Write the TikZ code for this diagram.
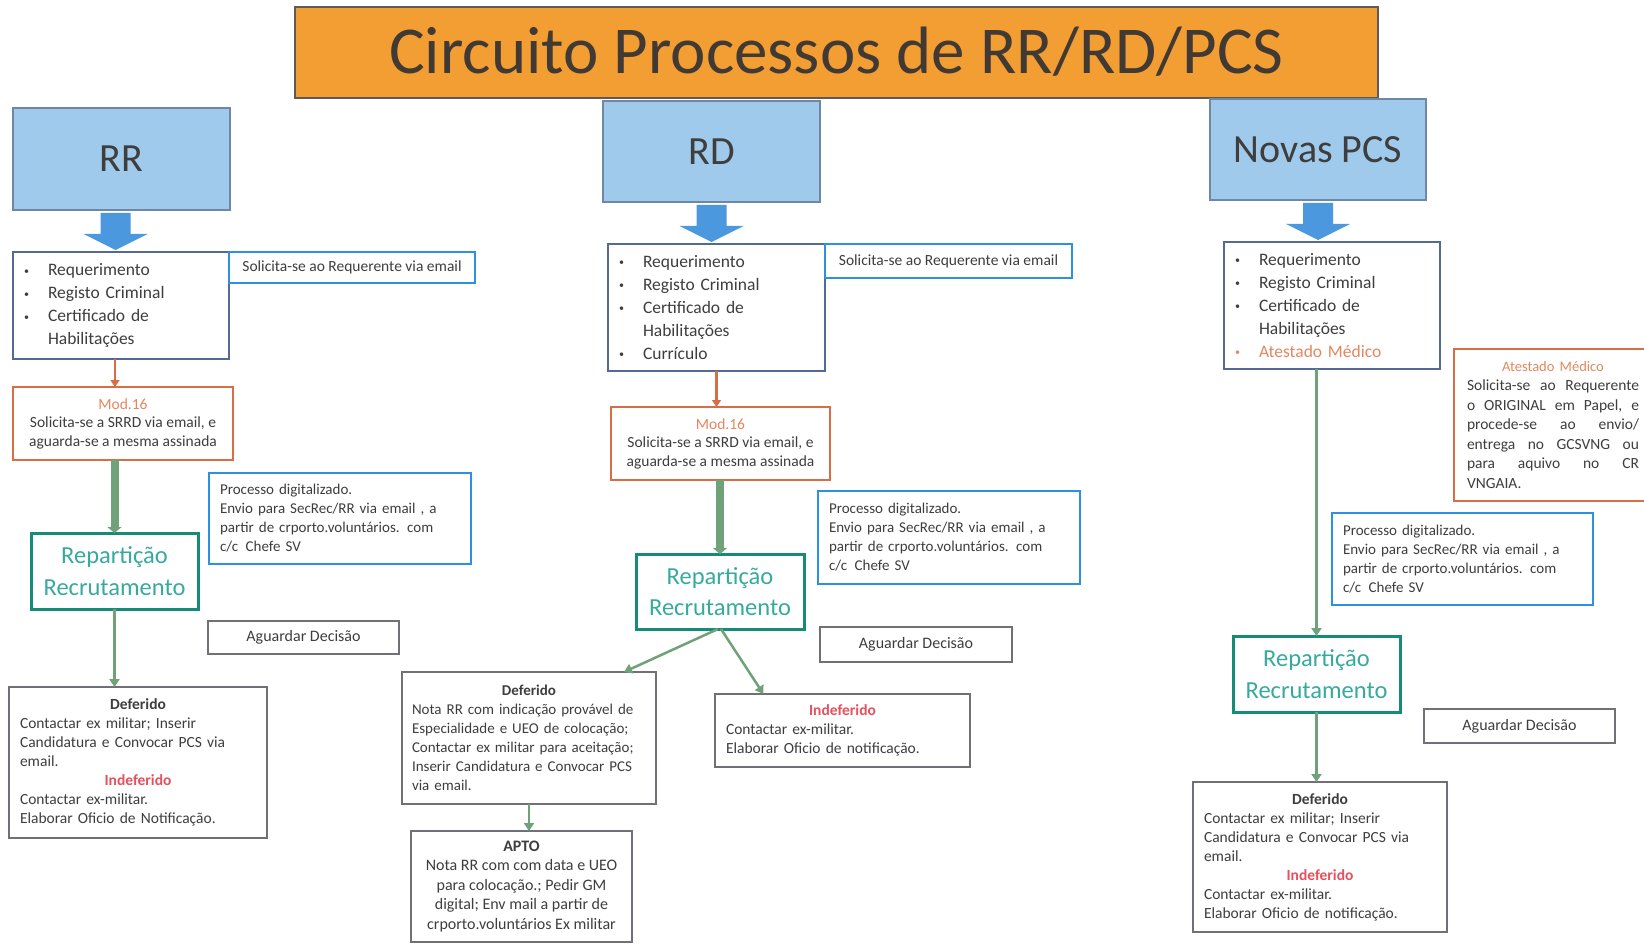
\documentclass[tikz,border=0pt]{standalone}
\usepackage{fontspec}
\setmainfont{Carlito}
\usetikzlibrary{arrows.meta,calc}
\definecolor{titlefill}{RGB}{242,158,50}
\definecolor{titleline}{RGB}{95,90,85}
\definecolor{titletext}{RGB}{65,58,52}
\definecolor{hdrfill}{RGB}{160,202,236}
\definecolor{hdrline}{RGB}{110,135,165}
\definecolor{arrowblue}{RGB}{75,152,222}
\definecolor{listline}{RGB}{85,105,150}
\definecolor{solline}{RGB}{45,145,225}
\definecolor{modline}{RGB}{215,110,70}
\definecolor{modtext}{RGB}{228,135,95}
\definecolor{repline}{RGB}{20,140,120}
\definecolor{reptext}{RGB}{55,170,158}
\definecolor{greenarr}{RGB}{112,162,122}
\definecolor{grayline}{RGB}{112,112,118}
\definecolor{indef}{RGB}{230,80,95}
\definecolor{txt}{RGB}{62,62,62}
\newcommand\bx[7]{\node[#2, minimum width={#5-#3}, minimum height={#6-#4}] (#1) at (#3,#4) {#7};}
\newcommand\li{\makebox[24pt][l]{\raisebox{1.5pt}{\fontsize{10}{10}\selectfont\textbullet}}}
\newcommand\jl[1]{\makebox[172pt][l]{#1}}
\newcommand\blockarr[3]{%
  \fill[arrowblue] ($(#1.south)+(#3-15,3)$) -- ($(#1.south)+(#3+15,3)$)
   -- ($(#1.south |- #2.north)+(#3+15,-18)$) -- ($(#1.south |- #2.north)+(#3+32,-18)$)
   -- ($(#1.south |- #2.north)+(#3,-2)$) -- ($(#1.south |- #2.north)+(#3-32,-18)$)
   -- ($(#1.south |- #2.north)+(#3-15,-18)$) -- cycle;}
\begin{document}
\begin{tikzpicture}[x=1pt,y=-1pt,
  base/.style={anchor=north west, outer sep=0pt, inner sep=0pt, text=txt},
  titlebox/.style={base, draw=titleline, fill=titlefill, line width=1.5pt, text=titletext, font=\fontsize{67}{70}\selectfont},
  hdr/.style={base, draw=hdrline, fill=hdrfill, line width=1.5pt, font=\fontsize{40}{48}\selectfont},
  listbox/.style={base, draw=listline, line width=2.5pt, fill=white, align=left, inner xsep=11pt, font=\fontsize{17.5}{23}\selectfont},
  solbox/.style={base, draw=solline, line width=2.5pt, align=center, font=\fontsize{15.5}{18}\selectfont},
  modbox/.style={base, draw=modline, line width=2.5pt, align=center, font=\fontsize{15.5}{18.5}\selectfont},
  repbox/.style={base, draw=repline, line width=3pt, text=reptext, align=center, font=\fontsize{24.5}{31.5}\selectfont},
  procbox/.style={base, draw=solline, line width=2.5pt, align=left, inner xsep=11pt, font=\fontsize{15}{19}\selectfont},
  aguabox/.style={base, draw=grayline, line width=2.5pt, align=center, font=\fontsize{16}{18}\selectfont},
  graybox/.style={base, draw=grayline, line width=2.5pt, align=left, inner xsep=11pt, font=\fontsize{15.5}{19}\selectfont},
  atbox/.style={base, draw=modline, line width=2.5pt, align=left, inner xsep=12pt, font=\fontsize{15.5}{19.5}\selectfont},
  orangearr/.style={draw=modline, line width=2.5pt, -{Triangle[width=9pt,length=7pt]}},
  greenthick/.style={draw=greenarr, line width=8pt, -{Triangle[width=14pt,length=6pt]}},
  greenthin/.style={draw=greenarr, line width=2.5pt, -{Triangle[width=10pt,length=8pt]}}
]
\useasboundingbox (0,0) rectangle (1644,944);
\fill[white] (0,0) rectangle (1644,944);

% title
\bx{title}{titlebox}{295}{7}{1378}{98}{\raisebox{5pt}{Circuito Processos de RR/RD/PCS}}

% headers
\bx{rr}{hdr}{13}{108}{230}{210}{RR}
\bx{rd}{hdr}{603}{101}{820}{202}{RD}
\bx{pcs}{hdr}{1210}{99}{1426}{200}{Novas PCS}

% ---------------- RR column
\bx{listRR}{listbox, text width=194}{13}{252}{229}{359}{\li Requerimento\\\li Registo Criminal\\\li Certificado de\\\hspace*{24pt}Habilitações}
\bx{solRR}{solbox}{229}{252}{475}{283}{Solicita-se ao Requerente via email}
\bx{modRR}{modbox}{13}{387}{233}{460}{{\color{modtext}Mod.16}\\Solicita-se a SRRD via email, e\\aguarda-se a mesma assinada}
\bx{repRR}{repbox}{31}{533}{198}{609}{Repartição\\Recrutamento}
\bx{procRR}{procbox, text width=240}{209}{473}{471}{564}{Processo digitalizado.\\Envio para SecRec/RR via email , a\\partir de crporto.voluntários. com\\c/c\enspace Chefe SV}
\bx{aguRR}{aguabox}{208}{621}{399}{654}{Aguardar Decisão}
\bx{defRR}{graybox, text width=236}{9}{687}{267}{838}{{\centering\textbf{Deferido}\par}Contactar ex militar; Inserir\\Candidatura e Convocar PCS via\\email.\par{\centering\textbf{\color{indef}Indeferido}\par}Contactar ex-militar.\\Elaborar Oficio de Notificação.}

\blockarr{rr}{listRR}{-6}
\draw[orangearr] ([xshift=-6pt]listRR.south) -- ([xshift=-6pt]listRR.south |- modRR.north);
\draw[greenthick] (modRR.south -| repRR.north) -- (repRR.north);
\draw[greenthin] (repRR.south) -- (repRR.south |- defRR.north);

% ---------------- RD column
\bx{listRD}{listbox, text width=195}{608}{244}{825}{371}{\li Requerimento\\\li Registo Criminal\\\li Certificado de\\\hspace*{24pt}Habilitações\\\li Currículo}
\bx{solRD}{solbox}{825}{244}{1072}{278}{Solicita-se ao Requerente via email}
\bx{modRD}{modbox}{611}{407}{830}{480}{{\color{modtext}Mod.16}\\Solicita-se a SRRD via email, e\\aguarda-se a mesma assinada}
\bx{repRD}{repbox}{636}{554}{804}{629}{Repartição\\Recrutamento}
\bx{procRD}{procbox, text width=240}{818}{491}{1080}{584}{Processo digitalizado.\\Envio para SecRec/RR via email , a\\partir de crporto.voluntários. com\\c/c\enspace Chefe SV}
\bx{aguRD}{aguabox}{820}{627}{1012}{662}{Aguardar Decisão}
\bx{defRD}{graybox, font=\fontsize{15}{19}\selectfont, inner xsep=10pt, text width=234}{402}{672}{656}{804}{{\centering\textbf{Deferido}\par}Nota RR com indicação provável de\\Especialidade e UEO de colocação;\\Contactar ex militar para aceitação;\\Inserir Candidatura e Convocar PCS\\via email.}
\bx{indRD}{graybox, text width=233}{715}{694}{970}{767}{{\centering\textbf{\color{indef}Indeferido}\par}Contactar ex-militar.\\Elaborar Oficio de notificação.}
\bx{apto}{graybox, font=\fontsize{16}{19.5}\selectfont, align=center, inner xsep=0pt}{411}{831}{632}{942}{\textbf{APTO}\\Nota RR com com data e UEO\\para colocação.; Pedir GM\\digital; Env mail a partir de\\crporto.voluntários Ex militar}

\blockarr{rd}{listRD}{0}
\draw[orangearr] (listRD.south) -- (listRD.south |- modRD.north);
\draw[greenthick] (modRD.south -| repRD.north) -- (repRD.north);
\draw[greenthin] ([xshift=-2pt]repRD.south) -- ($(defRD.north west)!0.874!(defRD.north east)$);
\draw[greenthin] ([xshift=1pt]repRD.south) -- ($(indRD.north west)!0.19!(indRD.north east)$);
\draw[greenthin] (defRD.south) -- (defRD.south |- apto.north);

% ---------------- PCS column
\bx{listPCS}{listbox, text width=194}{1224}{242}{1440}{369}{\li Requerimento\\\li Registo Criminal\\\li Certificado de\\\hspace*{24pt}Habilitações\\{\color{modtext}\li Atestado Médico}}
\bx{atest}{atbox, text width=172}{1454}{349}{1652}{501}{{\centering{\fontsize{14.5}{19.5}\selectfont\color{modtext}Atestado Médico}\par}%
\jl{Solicita-se\hfill ao\hfill Requerente}\\
\jl{o\hfill ORIGINAL\hfill em\hfill Papel,\hfill e}\\
\jl{procede-se\hfill ao\hfill envio/}\\
\jl{entrega\hfill no\hfill GCSVNG\hfill ou}\\
\jl{para\hfill aquivo\hfill no\hfill CR}\\
VNGAIA.}
\bx{procPCS}{procbox, text width=239}{1332}{513}{1593}{605}{Processo digitalizado.\\Envio para SecRec/RR via email , a\\partir de crporto.voluntários. com\\c/c\enspace Chefe SV}
\bx{repPCS}{repbox}{1233}{636}{1400}{712}{Repartição\\Recrutamento}
\bx{aguPCS}{aguabox}{1424}{709}{1615}{743}{Aguardar Decisão}
\bx{defPCS}{graybox, text width=232}{1193}{782}{1447}{932}{{\centering\textbf{Deferido}\par}Contactar ex militar; Inserir\\Candidatura e Convocar PCS via\\email.\par{\centering\textbf{\color{indef}Indeferido}\par}Contactar ex-militar.\\Elaborar Oficio de notificação.}

\blockarr{pcs}{listPCS}{0}
\draw[greenthin] (listPCS.south -| repPCS.north) -- (repPCS.north);
\draw[greenthin] (repPCS.south) -- (repPCS.south |- defPCS.north);
\end{tikzpicture}
\end{document}
